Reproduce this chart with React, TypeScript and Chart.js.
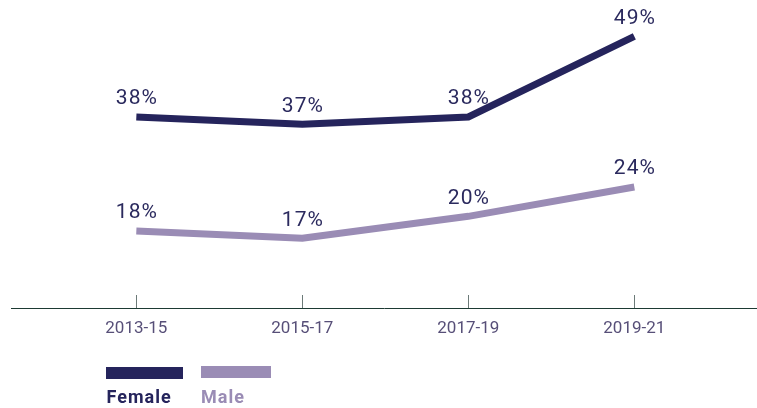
import React, { useEffect, useRef } from "react";
import { Chart, registerables } from "chart.js";
Chart.register(...registerables);

const periods = ["2013-15", "2015-17", "2017-19", "2019-21"];
const female = [38, 37, 38, 49];
const male = [18, 17, 20, 24];
const seriesNames = ["Female", "Male"];

const FEMALE_COLOR = "#25245c";
const MALE_COLOR = "#9a8cb5";
const LABEL_COLOR = "#2b2a5e";
const TICK_LABEL_COLOR = "#574f78";

export default function App() {
  const ref = useRef<HTMLCanvasElement>(null);
  useEffect(() => {
    document.body.style.margin = "0";
    const canvas = ref.current!;
    const tickMarks = {
      id: "tickMarks",
      afterDraw(chart: any) {
        const ctx = chart.ctx;
        const xs = chart.scales.x;
        const b = chart.chartArea.bottom;
        ctx.save();
        ctx.strokeStyle = "#6c7a78";
        ctx.lineWidth = 1;
        periods.forEach((_, i) => {
          const px = Math.round(xs.getPixelForValue(i)) + 0.5;
          ctx.beginPath();
          ctx.moveTo(px, b - 13);
          ctx.lineTo(px, b);
          ctx.stroke();
        });
        ctx.restore();
      },
    };
    const dataLabels = {
      id: "dataLabels",
      afterDatasetsDraw(chart: any) {
        const ctx = chart.ctx;
        ctx.save();
        ctx.font = "400 21px Roboto";
        (ctx as any).letterSpacing = "1px";
        ctx.fillStyle = LABEL_COLOR;
        ctx.textAlign = "center";
        ctx.textBaseline = "middle";
        chart.data.datasets.forEach((ds: any, di: number) => {
          const meta = chart.getDatasetMeta(di);
          meta.data.forEach((el: any, i: number) => {
            ctx.fillText(ds.data[i].y + "%", el.x + 0.5, el.y - 18);
          });
        });
        ctx.restore();
      },
    };
    const legend = {
      id: "customLegend",
      afterDraw(chart: any) {
        const ctx = chart.ctx;
        ctx.save();
        ctx.fillStyle = FEMALE_COLOR;
        ctx.fillRect(106, 367, 77, 12);
        ctx.fillStyle = MALE_COLOR;
        ctx.fillRect(201, 366, 70, 12);
        ctx.font = "700 18px Roboto";
        (ctx as any).letterSpacing = "1px";
        ctx.textBaseline = "alphabetic";
        ctx.textAlign = "left";
        ctx.fillStyle = FEMALE_COLOR;
        ctx.fillText(seriesNames[0], 106.5, 403);
        ctx.fillStyle = MALE_COLOR;
        ctx.fillText(seriesNames[1], 201, 403);
        ctx.restore();
      },
    };
    const chart = new Chart(canvas, {
      type: "line",
      data: {
        datasets: [
          {
            label: seriesNames[0],
            data: female.map((v, i) => ({ x: i, y: v })),
            borderColor: FEMALE_COLOR,
            backgroundColor: FEMALE_COLOR,
            borderWidth: 7,
            pointRadius: 0,
            borderJoinStyle: "miter",
            borderCapStyle: "butt",
            tension: 0,
            yAxisID: "yF",
            clip: false,
          },
          {
            label: seriesNames[1],
            data: male.map((v, i) => ({ x: i, y: v })),
            borderColor: MALE_COLOR,
            backgroundColor: MALE_COLOR,
            borderWidth: 7,
            pointRadius: 0,
            borderJoinStyle: "miter",
            borderCapStyle: "butt",
            tension: 0,
            yAxisID: "yM",
            clip: false,
          },
        ],
      },
      options: {
        animation: false,
        responsive: false,
        maintainAspectRatio: false,
        layout: { padding: { left: 11, right: 0, top: 20, bottom: 0 } },
        plugins: { legend: { display: false }, tooltip: { enabled: false } },
        scales: {
          x: {
            type: "linear",
            min: -0.755,
            max: 3.739,
            afterBuildTicks: (s: any) => {
              s.ticks = periods.map((_, i) => ({ value: i }));
            },
            afterFit: (s: any) => {
              s.height = 100;
            },
            ticks: {
              callback: (v: any) => periods[v as number],
              color: TICK_LABEL_COLOR,
              font: { family: "Roboto", size: 17 },
              padding: 11,
              autoSkip: false,
              maxRotation: 0,
            },
            grid: { display: false, drawTicks: false },
            border: { display: true, color: "#1d3a33", width: 1 },
          },
          yF: { type: "linear", axis: "y", position: "left", display: false, min: 11.91, max: 51.25 },
          yM: { type: "linear", axis: "y", position: "left", display: false, min: 7.48, max: 46.82 },
        },
      } as any,
      plugins: [tickMarks, dataLabels, legend],
    });
    return () => chart.destroy();
  }, []);
  return <canvas ref={ref} width={757} height={408} style={{ display: "block" }} />;
}
